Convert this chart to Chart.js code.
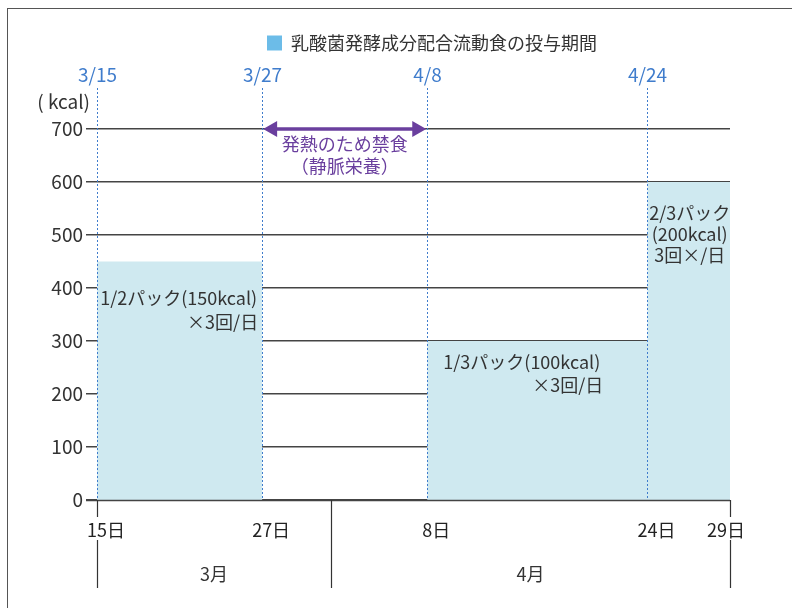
<!DOCTYPE html>
<html>
<head>
<meta charset="utf-8">
<script src="https://cdn.jsdelivr.net/npm/chart.js@4"></script>
<style>
  html, body { margin: 0; padding: 0; background: #fff; }
  #wrap { width: 792px; height: 608px; }
</style>
</head>
<body>
<div id="wrap"><canvas id="intake" width="792" height="608"></canvas></div>
<script>
// days counted from 3/15 (last point = end of 4/29)
var periodStart = [0, 12, 24, 40, 46];
var kcalPerDay = [450, 0, 300, 600, 600];
var topDates = ['3/15', '3/27', '4/8', '4/24'];
var dayLabels = ['15日', '27日', '8日', '24日', '29日'];
var monthNames = ['3月', '4月'];
var monthEdges = [0, 17, 46];
var seriesName = '乳酸菌発酵成分配合流動食の投与期間';
var fastNote = ['発熱のため禁食', '（静脈栄養）'];
var notes = [
  ['1/2パック(150kcal)', '×3回/日'],
  [],
  ['1/3パック(100kcal)', '×3回/日'],
  ['2/3パック', '(200kcal)', '3回×/日']
];

var FONT = '"Noto Sans CJK JP", "Noto Sans", sans-serif';
var INK = '#333333';
var BLUE = '#3f7ccc';
var PURPLE = '#6a3f9e';

var overlay = {
  id: 'overlay',
  beforeInit: function (chart) {
    var fit = chart.legend.fit;
    chart.legend.fit = function () {
      fit.call(this);
      this.height += 67;
    };
  },
  afterLayout: function (chart) {
    // legend sits a bit right of the middle in the original
    chart.legend.left = 134;
  },
  beforeDraw: function (chart) {
    var ctx = chart.ctx;
    ctx.save();
    ctx.strokeStyle = '#555';
    ctx.lineWidth = 1;
    ctx.strokeRect(7.5, 8.5, 820, 700);
    ctx.restore();
  },
  afterDatasetsDraw: function (chart) {
    var ctx = chart.ctx, a = chart.chartArea;
    var x = chart.scales.x, y = chart.scales.y;
    ctx.save();

    // x axis line
    var y0 = Math.round(y.getPixelForValue(0)) + 0.5;
    ctx.strokeStyle = '#444';
    ctx.lineWidth = 1.5;
    ctx.beginPath();
    ctx.moveTo(a.left - 11, y0);
    ctx.lineTo(a.right, y0);
    ctx.stroke();

    // dashed date markers + dates on top
    ctx.font = '19px ' + FONT;
    ctx.textAlign = 'center';
    ctx.textBaseline = 'middle';
    for (var i = 0; i < topDates.length; i++) {
      var px = Math.round(x.getPixelForValue(periodStart[i])) + 0.5;
      ctx.strokeStyle = BLUE;
      ctx.lineWidth = 1;
      ctx.setLineDash([2, 2]);
      ctx.beginPath();
      ctx.moveTo(px, 88);
      ctx.lineTo(px, a.bottom);
      ctx.stroke();
      ctx.setLineDash([]);
      ctx.fillStyle = BLUE;
      ctx.fillText(topDates[i], px, 75);
    }

    // unit
    ctx.fillStyle = INK;
    ctx.font = '19px ' + FONT;
    ctx.textAlign = 'right';
    ctx.fillText('( kcal)', 90, 102);

    // fasting arrow
    var x1 = x.getPixelForValue(periodStart[1]), x2 = x.getPixelForValue(periodStart[2]);
    var ay = y.getPixelForValue(700);
    ctx.strokeStyle = PURPLE;
    ctx.fillStyle = PURPLE;
    ctx.lineWidth = 3.5;
    ctx.beginPath();
    ctx.moveTo(x1 + 10, ay);
    ctx.lineTo(x2 - 10, ay);
    ctx.stroke();
    ctx.beginPath();
    ctx.moveTo(x1 + 1, ay); ctx.lineTo(x1 + 15, ay - 8); ctx.lineTo(x1 + 15, ay + 8); ctx.closePath();
    ctx.moveTo(x2 - 1, ay); ctx.lineTo(x2 - 15, ay - 8); ctx.lineTo(x2 - 15, ay + 8); ctx.closePath();
    ctx.fill();
    ctx.font = '18px ' + FONT;
    ctx.textAlign = 'center';
    ctx.fillText(fastNote[0], (x1 + x2) / 2, ay + 15);
    ctx.fillText(fastNote[1], (x1 + x2) / 2, ay + 37);

    // notes in the blocks
    ctx.fillStyle = INK;
    ctx.font = '18px ' + FONT;
    var e0 = x.getPixelForValue(periodStart[1]);
    var t0 = y.getPixelForValue(kcalPerDay[0]);
    ctx.textAlign = 'right';
    ctx.fillText(notes[0][0], e0 - 5, t0 + 37);
    ctx.fillText(notes[0][1], e0 - 4, t0 + 61);

    var s2 = x.getPixelForValue(periodStart[2]);
    var t2 = y.getPixelForValue(kcalPerDay[2]);
    var w2 = ctx.measureText(notes[2][0]).width;
    ctx.textAlign = 'left';
    ctx.fillText(notes[2][0], s2 + 16, t2 + 21);
    ctx.textAlign = 'right';
    ctx.fillText(notes[2][1], s2 + 16 + w2 + 3, t2 + 44);

    var s3 = x.getPixelForValue(periodStart[3]), e3 = x.getPixelForValue(periodStart[4]);
    var t3 = y.getPixelForValue(kcalPerDay[3]);
    ctx.textAlign = 'center';
    for (var k = 0; k < notes[3].length; k++) {
      ctx.fillText(notes[3][k], (s3 + e3) / 2 + 1, t3 + 31 + k * 21);
    }

    // month separators and labels below the axis
    ctx.strokeStyle = '#333';
    ctx.lineWidth = 1.2;
    for (var m = 0; m < monthEdges.length; m++) {
      var mx = Math.round(x.getPixelForValue(monthEdges[m])) + 0.5;
      var outer = (m === 0 || m === monthEdges.length - 1);
      ctx.beginPath();
      ctx.moveTo(mx, a.bottom);
      ctx.lineTo(mx, outer ? 517 : 588);
      if (outer) {
        ctx.moveTo(mx, 540);
        ctx.lineTo(mx, 588);
      }
      ctx.stroke();
    }
    ctx.fillStyle = INK;
    ctx.font = '18px ' + FONT;
    ctx.textAlign = 'center';
    for (var n = 0; n < monthNames.length; n++) {
      var c = (x.getPixelForValue(monthEdges[n]) + x.getPixelForValue(monthEdges[n + 1])) / 2;
      ctx.fillText(monthNames[n], c, 574);
    }
    ctx.fillStyle = '#222';
    for (var d = 0; d < dayLabels.length; d++) {
      var dx = x.getPixelForValue(periodStart[d]);
      ctx.fillText(dayLabels[d], dx + (d === dayLabels.length - 1 ? -4 : 9), 530);
    }
    ctx.restore();
  }
};

var ctx = document.getElementById('intake').getContext('2d');
var chart = new Chart(ctx, {
  type: 'line',
  data: {
    datasets: [{
      label: seriesName,
      data: periodStart.map(function (d, i) { return { x: d, y: kcalPerDay[i] }; }),
      stepped: true,
      fill: 'origin',
      backgroundColor: '#cfe9f0',
      borderColor: 'transparent',
      borderWidth: 0,
      pointRadius: 0
    }]
  },
  options: {
    responsive: false,
    animation: false,
    layout: { padding: { left: 0, right: 62, top: 24, bottom: 108 } },
    plugins: {
      legend: {
        position: 'top',
        labels: {
          boxWidth: 15,
          boxHeight: 15,
          padding: 10,
          color: INK,
          font: { family: FONT, size: 18 },
          generateLabels: function (chart) {
            return chart.data.datasets.map(function (ds, i) {
              return { text: ds.label, fillStyle: '#6cbce8', strokeStyle: '#6cbce8', lineWidth: 0, datasetIndex: i, fontColor: INK };
            });
          }
        }
      },
      tooltip: { enabled: false }
    },
    scales: {
      x: { type: 'linear', min: 0, max: 46, display: false },
      y: {
        min: 0,
        max: 700,
        afterFit: function (s) { s.width = 97; },
        border: { display: false },
        grid: { color: '#444', lineWidth: 1.5, tickLength: 11 },
        ticks: { stepSize: 100, color: INK, padding: 3, font: { family: FONT, size: 19 } }
      }
    }
  },
  plugins: [overlay]
});
</script>
</body>
</html>
